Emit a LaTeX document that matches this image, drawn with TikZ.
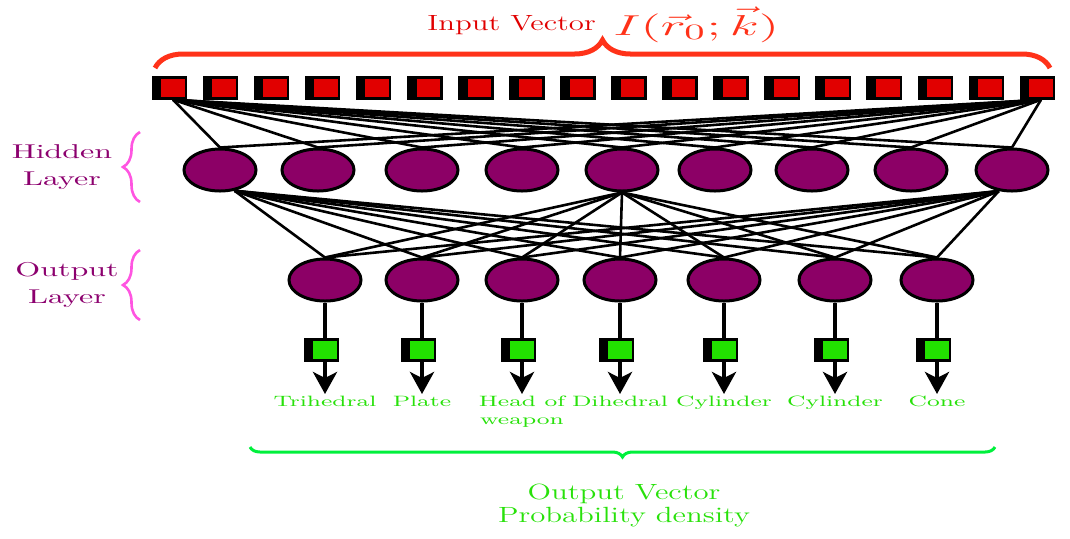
\documentclass[tikz,border=0pt]{standalone}
\usepackage{tikz}
\usetikzlibrary{shapes.geometric,shadows,arrows.meta,decorations.pathreplacing}

\definecolor{inred}{RGB}{225,0,0}
\definecolor{bracered}{RGB}{255,50,25}
\definecolor{nodepurple}{RGB}{140,0,102}
\definecolor{labelpurple}{RGB}{140,0,110}
\definecolor{bracepink}{RGB}{255,85,225}
\definecolor{boxgreen}{RGB}{34,225,0}
\definecolor{textgreen}{RGB}{40,225,10}
\definecolor{bracegreen}{RGB}{0,240,60}

% text in the figure is set wide
\newcommand{\widen}[2][1.6]{\scalebox{#1}[1]{#2}}

\begin{document}
\begin{tikzpicture}[x=0.5pt, y=0.5pt,
    neuron/.style={ellipse, draw=black, line width=1.5pt, fill=nodepurple,
      minimum width=36pt, minimum height=21pt, inner sep=0pt},
    inbox/.style={rectangle, draw=black, line width=1.2pt, fill=inred,
      minimum width=13pt, minimum height=10.5pt, inner sep=0pt,
      double copy shadow={shadow xshift=-1.8pt, shadow yshift=0pt, fill=black, draw=black}},
    outbox/.style={inbox, fill=boxgreen},
    wire/.style={line width=1.3pt},
    feed/.style={line width=2pt},
    layerbrace/.style={decorate, decoration={brace, amplitude=8.5pt}, bracepink, line width=1.3pt},
    layertext/.style={font=\fontsize{10}{13.5}\selectfont, text=labelpurple, align=center}]
  \useasboundingbox (0,0) rectangle (1070,-538);

  % --- input vector: 18 boxes under a brace ---
  \foreach \i in {0,...,17}
    \node[inbox] (in\i) at ({173+51.06*\i},-88) {};
  \draw[decorate, decoration={brace, amplitude=14pt}, bracered, line width=2.5pt]
    (155,-68) -- (1050,-68);
  \node[anchor=base west, inner sep=0pt, text=inred, font=\fontsize{11}{13}\selectfont]
    (intitle) at (427,-30) {\widen[1.4]{Input Vector}};
  \node[anchor=base west, inner sep=0pt, text=bracered, font=\fontsize{15.5}{18}\selectfont]
    (invec) at (613,-35) {\widen[1.85]{$I(\vec{r}_0;\vec{k})$}};

  % --- hidden layer ---
  \foreach \x [count=\j] in {220,318,422,522,622,715,812,911,1012}
    \node[neuron] (h\j) at (\x,-170) {};
  \draw[layerbrace] (140,-202) -- (140,-132);
  \node[layertext] (hidtext) at (62,-167) {\widen{Hidden}\\\widen{Layer}};

  % --- output layer, boxes, arrows and class names ---
  \foreach \x/\txt [count=\j] in {325/\widen{Trihedral}, 422/\widen{Plate},
      522/{\widen{Head of}\\\widen{weapon}}, 620/\widen{Dihedral},
      724/\widen{Cylinder}, 835/\widen{Cylinder}, 937/\widen{Cone}}{
    \node[neuron] (o\j) at (\x,-280) {};
    \node[outbox] (g\j) at (\x,-350) {};
    \coordinate (tip\j) at (\x,-394);
    \draw[feed] (o\j) -- (g\j);
    \draw[feed, -{Stealth[length=11pt, width=12pt, inset=3pt]}] (g\j) -- (tip\j);
    \node[anchor=north, inner sep=0pt, align=center, text=textgreen,
      font=\fontsize{7.5}{9}\selectfont] (lab\j) at (\x,-396) {\txt};
  }
  \draw[layerbrace] (140,-320) -- (140,-250);
  \node[layertext] (outtext) at (67,-285) {\widen{Output}\\\widen{Layer}};

  % --- connections (only the outer units are wired) ---
  \foreach \j in {1,...,9}{
    \draw[wire] (in0.south) -- (h\j.north);
    \draw[wire] (in17.south) -- (h\j.north);
  }
  \foreach \k in {1,...,7}{
    \draw[wire] (h1.-55) -- (o\k.north);
    \draw[wire] (h5.south) -- (o\k.north);
    \draw[wire] (h9.-122) -- (o\k.north);
  }

  % --- output vector ---
  \draw[decorate, decoration={brace, amplitude=5pt}, bracegreen, line width=1.5pt]
    (995,-447) -- (250,-447);
  \node[anchor=north, inner sep=0pt, align=center, text=textgreen,
    font=\fontsize{11}{11.5}\selectfont] (outtitle) at (624,-484)
    {\widen[1.4]{Output Vector}\\\widen[1.4]{Probability density}};
\end{tikzpicture}
\end{document}
